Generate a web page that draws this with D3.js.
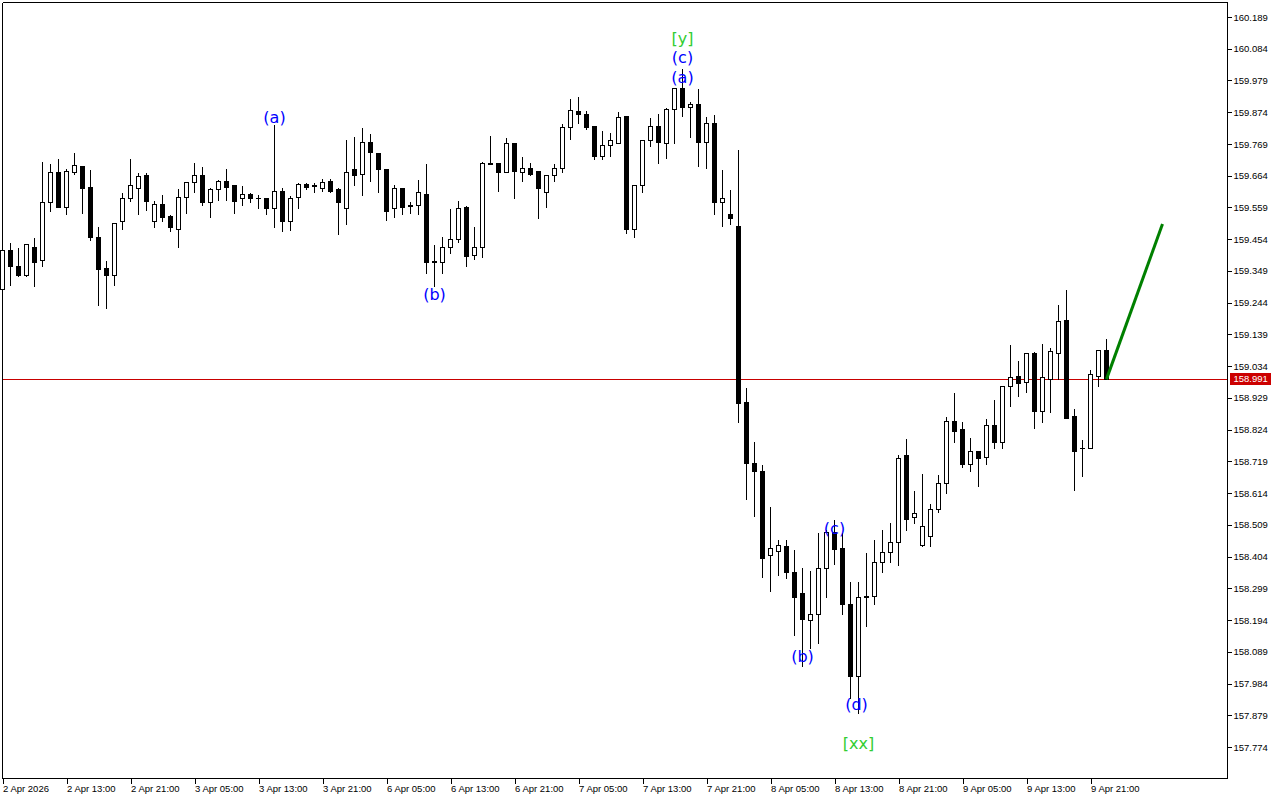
<!DOCTYPE html>
<html><head><meta charset="utf-8">
<script src="https://cdn.jsdelivr.net/npm/d3@7"></script>
<style>html,body{margin:0;padding:0;background:#fff;} svg{display:block}</style>
</head><body>
<svg id="c" width="1280" height="800"></svg>
<script>
// ---------- DATA (hourly candles, USDJPY-like) ----------
const opens = [159.286,159.418,159.365,159.335,159.425,159.382,159.574,159.676,159.560,159.676,
159.693,159.626,159.461,159.358,159.335,159.511,159.587,159.623,159.663,159.514,
159.570,159.530,159.487,159.593,159.640,159.666,159.574,159.617,159.646,159.630,
159.590,159.603,159.590,159.590,159.554,159.613,159.511,159.593,159.636,159.630,
159.623,159.646,159.617,159.554,159.686,159.669,159.775,159.739,159.686,159.554,
159.623,159.564,159.567,159.603,159.378,159.378,159.428,159.454,159.560,159.401,
159.428,159.706,159.706,159.676,159.769,159.676,159.689,159.679,159.610,159.666,
159.689,159.825,159.878,159.865,159.828,159.729,159.765,159.772,159.861,159.487,
159.633,159.779,159.828,159.772,159.884,159.951,159.891,159.901,159.775,159.838,
159.574,159.534,159.497,158.915,158.713,158.687,158.406,158.422,158.436,158.350,
158.283,158.191,158.211,158.366,158.485,158.432,158.247,158.006,158.267,158.273,
158.383,158.416,158.452,158.737,158.532,158.442,158.472,158.561,158.647,158.852,
158.823,158.710,158.750,158.733,158.839,158.780,158.965,159.001,158.981,159.077,
158.885,158.991,159.077,159.186,158.866,158.763,158.760,159.001,159.087];
const highs = [159.435,159.444,159.428,159.441,159.461,159.712,159.703,159.722,159.689,159.742,
159.699,159.686,159.497,159.382,159.507,159.610,159.722,159.676,159.673,159.583,
159.603,159.534,159.623,159.646,159.709,159.693,159.626,159.653,159.689,159.633,
159.633,159.610,159.603,159.593,159.832,159.626,159.600,159.640,159.640,159.640,
159.656,159.656,159.626,159.785,159.795,159.825,159.802,159.742,159.689,159.636,
159.626,159.577,159.650,159.703,159.435,159.464,159.554,159.583,159.567,159.497,
159.712,159.798,159.709,159.792,159.769,159.729,159.709,159.679,159.669,159.706,
159.838,159.918,159.927,159.881,159.828,159.815,159.808,159.875,159.861,159.633,
159.782,159.858,159.871,159.888,159.954,160.020,159.908,159.954,159.861,159.865,
159.683,159.617,159.752,158.962,158.786,158.707,158.571,158.459,158.459,158.426,
158.369,158.359,158.485,158.495,158.528,158.482,158.323,158.323,158.416,158.462,
158.492,158.518,158.740,158.793,158.624,158.680,158.581,158.677,158.869,158.948,
158.852,158.799,158.750,158.862,158.925,158.971,159.104,159.054,159.077,159.084,
159.110,159.094,159.239,159.286,158.895,158.790,159.024,159.090,159.127];
const lows = [159.279,159.302,159.329,159.329,159.296,159.365,159.544,159.560,159.537,159.669,
159.540,159.448,159.236,159.226,159.302,159.487,159.577,159.537,159.550,159.494,
159.511,159.478,159.425,159.540,159.610,159.564,159.527,159.583,159.583,159.540,
159.564,159.574,159.557,159.534,159.494,159.481,159.484,159.557,159.617,159.610,
159.613,159.607,159.468,159.501,159.633,159.600,159.646,159.607,159.517,159.527,
159.537,159.540,159.534,159.342,159.299,159.342,159.408,159.444,159.362,159.388,
159.395,159.703,159.613,159.676,159.587,159.646,159.666,159.521,159.560,159.646,
159.673,159.785,159.838,159.818,159.719,159.716,159.729,159.772,159.474,159.461,
159.610,159.759,159.703,159.722,159.769,159.861,159.789,159.696,159.689,159.534,
159.497,159.501,158.846,158.594,158.535,158.336,158.287,158.343,158.333,158.144,
158.039,158.101,158.118,158.270,158.379,158.211,157.936,157.886,158.174,158.247,
158.350,158.383,158.376,158.489,158.512,158.436,158.436,158.551,158.614,158.783,
158.697,158.684,158.637,158.707,158.763,158.763,158.902,158.932,158.948,158.829,
158.849,158.882,158.991,158.862,158.621,158.670,158.760,158.965,158.991];
const closes = [159.418,159.362,159.335,159.435,159.378,159.574,159.676,159.560,159.679,159.699,
159.623,159.461,159.355,159.335,159.507,159.590,159.630,159.660,159.577,159.570,
159.527,159.491,159.593,159.640,159.666,159.574,159.617,159.646,159.626,159.577,
159.603,159.590,159.589,159.554,159.613,159.511,159.590,159.636,159.626,159.627,
159.643,159.613,159.574,159.676,159.666,159.775,159.742,159.683,159.547,159.620,
159.560,159.563,159.607,159.378,159.379,159.428,159.454,159.554,159.398,159.428,
159.703,159.702,159.673,159.769,159.679,159.689,159.669,159.623,159.666,159.689,
159.822,159.881,159.868,159.825,159.726,159.765,159.779,159.858,159.487,159.633,
159.782,159.828,159.775,159.884,159.951,159.891,159.901,159.775,159.838,159.574,
159.587,159.521,158.912,158.713,158.684,158.399,158.432,158.439,158.350,158.270,
158.197,158.211,158.366,158.485,158.429,158.247,158.006,158.270,158.273,158.383,
158.416,158.452,158.730,158.528,158.545,158.505,158.561,158.647,158.852,158.819,
158.710,158.750,158.727,158.839,158.780,158.965,158.998,158.978,159.077,158.885,
158.995,159.081,159.183,158.862,158.753,158.760,159.005,159.087,158.991];

const xTickIndex = [0,8,16,24,32,40,48,56,64,72,80,88,96,104,112,120,128,136];
const xTickLabels = ["2 Apr 2026","2 Apr 13:00","2 Apr 21:00","3 Apr 05:00","3 Apr 13:00","3 Apr 21:00",
"6 Apr 05:00","6 Apr 13:00","6 Apr 21:00","7 Apr 05:00","7 Apr 13:00","7 Apr 21:00",
"8 Apr 05:00","8 Apr 13:00","8 Apr 21:00","9 Apr 05:00","9 Apr 13:00","9 Apr 21:00"];
const yTickValues = [160.189,160.084,159.979,159.874,159.769,159.664,159.559,159.454,159.349,159.244,
159.139,159.034,158.929,158.824,158.719,158.614,158.509,158.404,158.299,158.194,158.089,157.984,157.879,157.774];
const currentPrice = 158.991;

const projIndex = [138,145];
const projPrice = [158.991,159.504];

const labelTexts = ["(a)","(b)","[y]","(c)","(a)","(c)","(b)","(d)","[xx]"];
const labelIndex = [34,54,85,85,85,104,100,106.75,107];
const labelPrice = [159.858,159.272,160.119,160.056,159.990,158.498,158.072,157.913,157.787];
const labelColors = ["#0000ff","#0000ff","#32cd32","#0000ff","#0000ff","#0000ff","#0000ff","#0000ff","#32cd32"];

// ---------- DRAW ----------
const svg = d3.select("#c");
const L = 2.5, R = 1227.5, T = 2.5, B = 778.5;
const x = d3.scaleLinear().domain([0,1]).range([2.5,10.5]);
const y = d3.scaleLinear().domain([157.774,160.189]).range([747,17]);
const snap = v => Math.round(v - 0.5) + 0.5;

// frame
const frame = svg.append("g").attr("shape-rendering","crispEdges").attr("stroke","#000");
frame.append("line").attr("x1",L).attr("x2",L).attr("y1",T).attr("y2",B);
frame.append("line").attr("x1",L).attr("x2",R).attr("y1",T).attr("y2",T);

// current price line
svg.append("line").attr("shape-rendering","crispEdges")
  .attr("x1",L).attr("x2",R).attr("y1",snap(y(currentPrice))).attr("y2",snap(y(currentPrice)))
  .attr("stroke","#c80000").attr("stroke-width",1);

// candles
const data = opens.map((o,i)=>({i,o,h:highs[i],l:lows[i],c:closes[i]}));
const g = svg.append("g").attr("shape-rendering","crispEdges");
const cg = g.selectAll("g.candle").data(data).join("g").attr("class","candle");
cg.append("line")
  .attr("x1",d=>x(d.i)).attr("x2",d=>x(d.i))
  .attr("y1",d=>snap(y(d.h))).attr("y2",d=>snap(y(d.l)))
  .attr("stroke","#000");
cg.each(function(d){
  const sel = d3.select(this);
  const t = snap(y(Math.max(d.o,d.c))), b = snap(y(Math.min(d.o,d.c)));
  if (b - t < 1) {
    sel.append("line").attr("x1",x(d.i)-2.5).attr("x2",x(d.i)+2.5)
      .attr("y1",t).attr("y2",t).attr("stroke","#000");
  } else {
    sel.append("rect").attr("x",x(d.i)-2).attr("y",t).attr("width",4).attr("height",b-t)
      .attr("fill", d.c > d.o ? "#fff" : "#000").attr("stroke","#000");
  }
});

// projection line
svg.append("path")
  .datum(projIndex.map((v,k)=>[v,projPrice[k]]))
  .attr("d", d3.line().x(d=>x(d[0])).y(d=>y(d[1])))
  .attr("stroke","#008000").attr("stroke-width",3).attr("fill","none");

// wave labels
svg.append("g").selectAll("text").data(labelTexts).join("text")
  .attr("x",(d,k)=>x(labelIndex[k])).attr("y",(d,k)=>y(labelPrice[k]))
  .attr("text-anchor","middle").attr("dominant-baseline","central")
  .attr("font-family","DejaVu Sans, Verdana, sans-serif").attr("font-size",16)
  .attr("fill",(d,k)=>labelColors[k]).text(d=>d);

// bottom axis
const xa = svg.append("g").attr("transform",`translate(0,${B})`)
  .call(d3.axisBottom(x).tickValues(xTickIndex).tickFormat((d,k)=>xTickLabels[k]).tickSize(5).tickSizeOuter(0));
xa.select(".domain").remove();
xa.append("line").attr("x1",L).attr("x2",R).attr("stroke","#000").attr("shape-rendering","crispEdges");
xa.selectAll(".tick line").attr("stroke","#000").attr("shape-rendering","crispEdges");
xa.selectAll(".tick text").attr("text-anchor","start").attr("x",0).attr("y",13.5).attr("dy",null)
  .attr("font-family","Liberation Sans, Arial, sans-serif").attr("font-size",9.5).attr("fill","#000");

// right axis
const ya = svg.append("g").attr("transform",`translate(${R},0)`)
  .call(d3.axisRight(y).tickValues(yTickValues).tickFormat(d3.format(".3f")).tickSize(4).tickSizeOuter(0));
ya.select(".domain").remove();
ya.append("line").attr("y1",T).attr("y2",B).attr("stroke","#000").attr("shape-rendering","crispEdges");
ya.selectAll(".tick line").attr("stroke","#000").attr("shape-rendering","crispEdges");
ya.selectAll(".tick text").attr("x",6).attr("font-family","Liberation Sans, Arial, sans-serif")
  .attr("font-size",9.5).attr("fill","#000");

// current price tag
const py = y(currentPrice);
svg.append("rect").attr("x",R+2).attr("y",Math.round(py)-6).attr("width",41).attr("height",12)
  .attr("fill","#cc0000").attr("shape-rendering","crispEdges");
svg.append("text").attr("x",R+6).attr("y",py).attr("dy","0.34em")
  .attr("font-family","Liberation Sans, Arial, sans-serif").attr("font-size",9.5)
  .attr("fill","#fff").text(d3.format(".3f")(currentPrice));
</script>
</body></html>
